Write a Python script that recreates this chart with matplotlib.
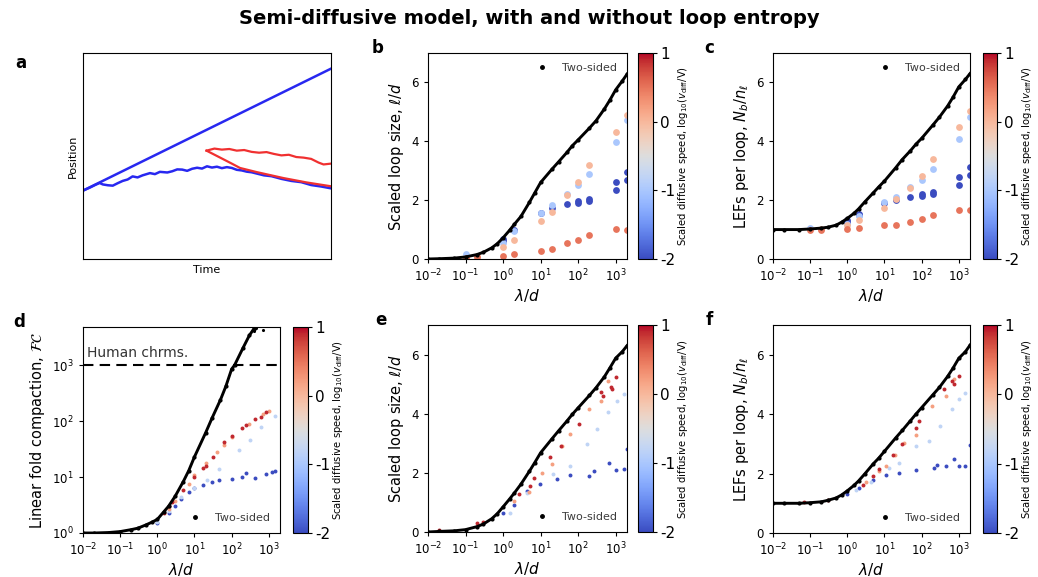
import numpy as np
import matplotlib
matplotlib.use("Agg")
import matplotlib.pyplot as plt
from matplotlib.colors import Normalize
from matplotlib.cm import ScalarMappable
from matplotlib.lines import Line2D

# ---------------- data ----------------
# panel a: trajectories (time, position), arbitrary units
a_straight_t = [0, 100]
a_straight_y = [33.2, 92.4]
a_blue_t = [0, 3, 5, 6.7, 8, 10, 12, 14, 16, 18, 20, 22, 24, 27, 29, 31, 34, 36, 38, 40, 42, 44,
            46, 48, 50, 52, 54, 56, 58, 60, 62, 64, 66, 68, 70, 73, 76, 80, 84, 88, 92, 96, 100]
a_blue_y = [33.2, 34.8, 36.0, 36.9, 36.2, 35.8, 35.6, 36.8, 37.9, 38.6, 40.1, 39.6, 40.6, 41.7,
            41.2, 42.3, 42.0, 42.6, 43.5, 43.4, 42.8, 43.8, 44.3, 43.9, 45.0, 44.4, 44.8, 44.1,
            44.6, 44.2, 43.3, 43.0, 42.4, 42.1, 41.5, 40.6, 40.2, 38.9, 37.9, 37.3, 35.9, 35.2, 34.3]
a_red_up_t = [49.8, 53, 56, 59, 62, 65, 68, 71, 74, 77, 80, 83, 86, 89, 92, 95, 97, 100]
a_red_up_y = [52.6, 53.6, 53.1, 53.4, 52.6, 52.9, 52.0, 51.6, 51.9, 51.0, 50.3, 50.6, 49.5, 49.2,
              48.6, 46.8, 45.9, 46.3]
a_red_lo_t = [49.8, 55, 60, 63.3, 70, 80.8, 90, 100]
a_red_lo_y = [52.6, 49.4, 46.3, 44.2, 42.2, 39.3, 37.2, 35.3]

# two-sided (black) curves, x = lambda/d
lam_black = [0.01, 0.02, 0.05, 0.1, 0.2, 0.3, 0.5, 0.7, 1, 1.5, 2, 3, 5, 7, 10, 20, 30, 50,
             70, 100, 200, 300, 500, 700, 1000, 1500, 2000]
b_black = [0.0, 0.01, 0.03, 0.07, 0.15, 0.23, 0.38, 0.52, 0.72, 0.98, 1.18, 1.45, 1.92, 2.25,
           2.6, 3.05, 3.3, 3.62, 3.85, 4.05, 4.45, 4.7, 5.1, 5.4, 5.75, 6.05, 6.28]
c_black = [1.0, 1.0, 1.0, 1.02, 1.05, 1.08, 1.15, 1.25, 1.38, 1.55, 1.7, 1.95, 2.25, 2.45,
           2.65, 3.1, 3.38, 3.68, 3.9, 4.1, 4.55, 4.82, 5.2, 5.5, 5.85, 6.1, 6.3]
e_black = [0.0, 0.02, 0.04, 0.08, 0.18, 0.27, 0.45, 0.62, 0.85, 1.12, 1.32, 1.62, 2.05, 2.35,
           2.68, 3.15, 3.42, 3.75, 3.98, 4.2, 4.62, 4.88, 5.25, 5.55, 5.88, 6.1, 6.3]
f_black = [1.0, 1.0, 1.0, 1.02, 1.05, 1.1, 1.18, 1.28, 1.42, 1.6, 1.75, 2.0, 2.33, 2.52,
           2.75, 3.2, 3.45, 3.78, 4.0, 4.22, 4.65, 4.9, 5.27, 5.55, 5.88, 6.1, 6.32]
lam_black_d = [0.01, 0.02, 0.05, 0.1, 0.2, 0.3, 0.5, 0.7, 1, 1.5, 2, 3, 5, 7, 10, 20, 30, 50,
               70, 100, 120, 200, 300, 400, 500]
d_black = [1.0, 1.0, 1.02, 1.06, 1.15, 1.22, 1.4, 1.55, 1.75, 2.4, 3.0, 4.5, 8.3, 13, 23, 62,
           115, 240, 420, 850, 1000, 2000, 3400, 4500, 5500]
d_black_extra_x = [400, 450, 700]
d_black_extra_y = [4100, 4700, 4300]

# scaled diffusive speeds (log10 v_diff / V) of the coloured series
speed_bc = [-2, -1, 0, 0.5]
speed_def = [-2, -0.8, 0.2, 0.9]

# panel b: scaled loop size
b_x_s0 = [1, 1, 2, 10, 20, 50, 100, 100, 200, 200, 1000, 1000, 2000, 2000]
b_y_s0 = [0.68, 0.62, 1.0, 1.58, 1.73, 1.87, 1.97, 1.9, 2.04, 1.98, 2.6, 2.35, 2.95, 2.67]
b_x_s1 = [0.1, 1, 2, 10, 20, 50, 100, 200, 1000, 2000]
b_y_s1 = [0.17, 0.55, 0.95, 1.55, 1.85, 2.22, 2.51, 2.9, 3.99, 4.73]
b_x_s2 = [0.2, 1, 2, 10, 20, 50, 100, 200, 1000, 2000]
b_y_s2 = [0.1, 0.41, 0.65, 1.3, 1.59, 2.19, 2.62, 3.18, 4.3, 4.89]
b_x_s3 = [0.1, 0.2, 1, 2, 10, 20, 50, 100, 200, 1000, 2000]
b_y_s3 = [0.05, 0.08, 0.11, 0.17, 0.28, 0.35, 0.54, 0.66, 0.83, 1.02, 1.0]

# panel c: LEFs per loop
c_x_s0 = [1, 1, 2, 2, 10, 20, 50, 100, 100, 200, 200, 1000, 1000, 2000, 2000]
c_y_s0 = [1.34, 1.25, 1.54, 1.48, 1.9, 2.0, 2.1, 2.22, 2.15, 2.26, 2.2, 2.79, 2.51, 3.11, 2.84]
c_x_s1 = [0.1, 1, 2, 10, 20, 50, 100, 200, 1000, 2000]
c_y_s1 = [1.05, 1.2, 1.45, 1.95, 2.1, 2.43, 2.67, 3.06, 4.09, 4.81]
c_x_s2 = [0.2, 1, 2, 10, 20, 50, 100, 200, 1000, 2000]
c_y_s2 = [1.02, 1.15, 1.31, 1.75, 2.05, 2.4, 2.83, 3.4, 4.47, 5.04]
c_x_s3 = [0.1, 0.2, 1, 2, 10, 20, 50, 100, 200, 1000, 2000]
c_y_s3 = [1.0, 1.0, 1.02, 1.05, 1.14, 1.17, 1.26, 1.37, 1.48, 1.65, 1.65]

# panel d: linear fold compaction
d_x_s0 = [1, 2, 3, 4.4, 7.2, 10, 16.6, 30, 46, 100, 195, 250, 430, 830, 1200, 1500]
d_y_s0 = [1.5, 2.3, 3.0, 4.0, 5.4, 6.3, 7.1, 8.0, 8.8, 9.2, 10, 12, 9.5, 11.5, 12.2, 12.8]
d_x_s1 = [1, 2, 4.4, 10, 22, 46, 158, 320, 600, 1500]
d_y_s1 = [1.6, 2.5, 4.4, 6.5, 9, 14, 30, 46, 79, 122]
d_x_s2 = [2, 3, 7, 10, 20, 40, 63, 100, 300, 700, 1000]
d_y_s2 = [2.7, 3.8, 7.5, 11, 18, 28, 38, 52, 90, 135, 150]
d_x_s3 = [1.5, 2, 2.5, 5, 10, 17, 20, 31, 63, 100, 195, 250, 430, 600, 830]
d_y_s3 = [2.3, 3.0, 3.6, 5.8, 10, 14.8, 16, 23, 42, 55, 74, 85, 107, 120, 146]

# panel e: scaled loop size (with loop entropy)
e_x_s0 = [1, 2, 4.3, 9.8, 27, 62, 195, 263, 660, 1000, 1660, 2000]
e_y_s0 = [0.65, 0.9, 1.38, 1.61, 1.78, 1.93, 1.89, 2.06, 2.35, 2.09, 2.14, 2.8]
e_x_s1 = [1.5, 4.3, 22, 62, 176, 320, 630, 1100, 1660]
e_y_s1 = [0.65, 1.33, 1.95, 2.23, 2.97, 3.48, 4.05, 4.44, 4.67]
e_x_s2 = [2, 5, 11, 20, 38, 62, 200, 400, 620]
e_y_s2 = [1.05, 1.36, 2.0, 2.29, 2.91, 3.31, 4.16, 4.44, 5.12]
e_x_s3 = [0.02, 0.2, 0.3, 2.6, 5.1, 6.5, 18, 34, 105, 400, 450, 740, 800, 1000]
e_y_s3 = [0.07, 0.3, 0.35, 1.27, 1.55, 1.81, 2.52, 2.91, 3.65, 4.73, 4.6, 4.9, 4.85, 5.24]

# panel f: LEFs per loop (with loop entropy)
f_x_s0 = [1, 2, 4.9, 11, 25, 69, 213, 260, 440, 740, 1000, 1500, 2000]
f_y_s0 = [1.3, 1.5, 1.79, 1.95, 2.01, 2.12, 2.18, 2.29, 2.24, 2.49, 2.24, 2.27, 2.95]
f_x_s1 = [1.7, 4.4, 13, 25, 69, 160, 320, 660, 1000, 1500]
f_y_s1 = [1.45, 1.73, 2.18, 2.35, 2.92, 3.08, 3.59, 4.16, 4.5, 4.72]
f_x_s2 = [3.2, 7.3, 11, 19, 34, 72, 195, 440, 740]
f_y_s2 = [1.73, 2.07, 2.26, 2.63, 3.03, 3.31, 4.27, 4.61, 5.18]
f_x_s3 = [0.07, 0.3, 2.6, 4.9, 7.0, 16.6, 30, 69, 85, 400, 660, 740, 1000]
f_y_s3 = [1.05, 1.1, 1.62, 1.92, 2.15, 2.63, 3.0, 3.54, 3.76, 4.84, 5.12, 5.0, 5.29]

cb_ticks = [-2, -1, 0, 1]
cb_ticklabels = ["-2", "-1", "0", "1"]

# ---------------- figure ----------------
W, H = 1038, 577
fig = plt.figure(figsize=(W / 100, H / 100), dpi=100)
cmap = plt.get_cmap("coolwarm")
norm = Normalize(vmin=-2, vmax=1)


def ax_at(l, t, r, b):
    return fig.add_axes([l / W, 1 - b / H, (r - l) / W, (b - t) / H])


fig.text(0.51, 0.968, "Semi-diffusive model, with and without loop entropy",
         ha="center", va="center", fontsize=14, fontweight="bold")

# panel a
ax = ax_at(83, 53, 331, 259)
ax.plot(a_straight_t, a_straight_y, color="#2828f0", lw=1.8)
ax.plot(a_blue_t, a_blue_y, color="#2828f0", lw=1.8)
ax.plot(a_red_up_t, a_red_up_y, color="#f03030", lw=1.6)
ax.plot(a_red_lo_t, a_red_lo_y, color="#f03030", lw=1.6)
ax.set_xlim(0, 100)
ax.set_ylim(0, 100)
ax.set_xticks([])
ax.set_yticks([])
ax.set_xlabel("Time", fontsize=8, labelpad=4)
ax.set_ylabel("Position", fontsize=8, labelpad=4)
fig.text(15 / W, 1 - 63 / H, "a", fontsize=12, fontweight="bold", va="center")


def panel(box, cbox, label, lxy, black_x, black_y, series, speeds, ylabel,
          s, legend_loc, logy=False):
    ax = ax_at(*box)
    ax.set_xscale("log")
    ax.plot(black_x, black_y, color="k", lw=2.1, marker="o", ms=2, zorder=3)
    for (xs, ys), sp in zip(series, speeds):
        ax.scatter(xs, ys, color=cmap(norm(sp)), s=s, lw=0, zorder=2)
    ax.set_xlim(1e-2, 2e3)
    if logy:
        ax.set_yscale("log")
        ax.set_ylim(1, 4800)
    else:
        ax.set_ylim(0, 7)
        ax.set_yticks([0, 2, 4, 6])
    ax.set_xticks([1e-2, 1e-1, 1e0, 1e1, 1e2, 1e3])
    ax.minorticks_off()
    ax.tick_params(labelsize=8.5, length=3)
    ax.set_xlabel(r"$\lambda/d$", fontsize=11, labelpad=2)
    ax.set_ylabel(ylabel, fontsize=10.5)
    h = Line2D([], [], color="k", marker="o", ls="", ms=2.5)
    ax.legend([h], ["Two-sided"], loc=legend_loc, frameon=False, fontsize=8,
              handletextpad=0.8, labelcolor="#3c3c3c")
    cax = ax_at(*cbox)
    cb = fig.colorbar(ScalarMappable(norm=norm, cmap=cmap), cax=cax)
    cb.set_ticks(cb_ticks)
    cb.set_ticklabels(cb_ticklabels)
    cb.ax.tick_params(labelsize=11, length=3, pad=2)
    cb.set_label(r"Scaled diffusive speed, log$_{10}$($v_{\rm diff}$/V)",
                 fontsize=7.2, labelpad=1)
    fig.text(lxy[0] / W, 1 - lxy[1] / H, label, fontsize=12, fontweight="bold", va="center")
    return ax


loop_lab = r"Scaled loop size, $\ell/d$"
lef_lab = r"LEFs per loop, $N_b/n_\ell$"

panel((428, 53, 627, 259), (638, 53, 653, 259), "b", (372, 48), lam_black, b_black,
      [(b_x_s0, b_y_s0), (b_x_s1, b_y_s1), (b_x_s2, b_y_s2), (b_x_s3, b_y_s3)],
      speed_bc, loop_lab, 24, "upper right")
panel((773, 53, 970, 259), (983, 53, 997, 259), "c", (704, 48), lam_black, c_black,
      [(c_x_s0, c_y_s0), (c_x_s1, c_y_s1), (c_x_s2, c_y_s2), (c_x_s3, c_y_s3)],
      speed_bc, lef_lab, 24, "upper right")
axd = panel((83, 327, 280, 533), (293, 327, 308, 533), "d", (13, 322), lam_black_d, d_black,
            [(d_x_s0, d_y_s0), (d_x_s1, d_y_s1), (d_x_s2, d_y_s2), (d_x_s3, d_y_s3)],
            speed_def, r"Linear fold compaction, $\mathcal{FC}$", 8, "lower right", logy=True)
axd.scatter(d_black_extra_x, d_black_extra_y, color="k", s=5, lw=0, zorder=3)
axd.axhline(1000, color="k", lw=1.5, ls=(0, (5, 3)))
axd.text(0.013, 1650, "Human chrms.", fontsize=10, va="center", color="#333333")
panel((428, 325, 627, 532), (638, 325, 653, 532), "e", (375, 320), lam_black, e_black,
      [(e_x_s0, e_y_s0), (e_x_s1, e_y_s1), (e_x_s2, e_y_s2), (e_x_s3, e_y_s3)],
      speed_def, loop_lab, 8, "lower right")
panel((773, 325, 970, 533), (983, 325, 997, 533), "f", (706, 320), lam_black, f_black,
      [(f_x_s0, f_y_s0), (f_x_s1, f_y_s1), (f_x_s2, f_y_s2), (f_x_s3, f_y_s3)],
      speed_def, lef_lab, 8, "lower right")

fig.savefig("out.png", dpi=100)
